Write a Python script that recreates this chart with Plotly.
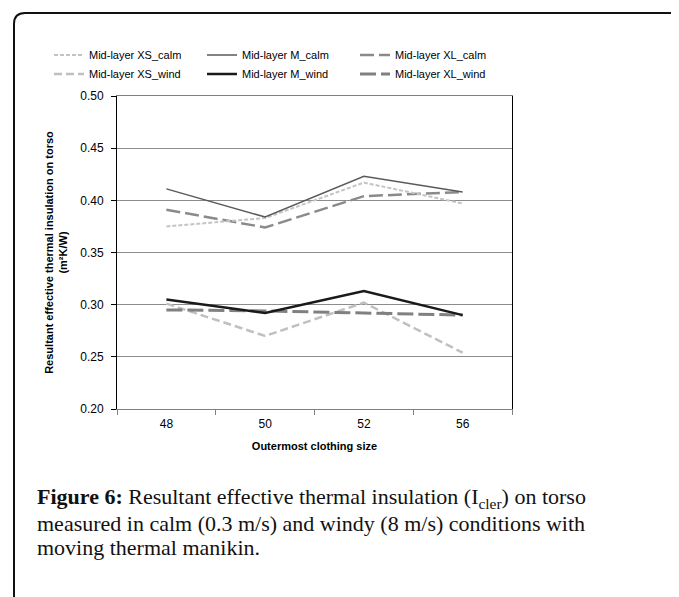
import plotly.graph_objects as go

sizes = ["48", "50", "52", "56"]
xs_calm = [0.375, 0.383, 0.417, 0.397]
m_calm = [0.411, 0.384, 0.423, 0.408]
xl_calm = [0.391, 0.374, 0.404, 0.408]
xs_wind = [0.301, 0.270, 0.302, 0.254]
m_wind = [0.305, 0.292, 0.313, 0.290]
xl_wind = [0.295, 0.294, 0.292, 0.290]

y_ticks = [0.20, 0.25, 0.30, 0.35, 0.40, 0.45, 0.50]

W, H = 679, 597
OFF = 8  # page body margin
L, R, T, B = 117, 512, 96, 409  # plot area in screen pixels


def px(xp):
    return (xp - L) / (R - L)


def py(yp):
    return (B - yp) / (B - T)


fig = go.Figure()

# (name, values, color, width, dash, legend rank)
series = [
    ("Mid-layer XS_wind", xs_wind, "#c0c0c0", 2.5, "8px,4px", 4),
    ("Mid-layer XL_wind", xl_wind, "#808080", 3, "16px,5px", 6),
    ("Mid-layer M_wind", m_wind, "#1a1a1a", 2.5, "solid", 5),
    ("Mid-layer XL_calm", xl_calm, "#8a8a8a", 2.5, "14px,5px", 3),
    ("Mid-layer XS_calm", xs_calm, "#c4c4c4", 2, "4px,2px", 1),
    ("Mid-layer M_calm", m_calm, "#5a5a5a", 1.5, "solid", 2),
]
for name, vals, color, width, dash, rank in series:
    fig.add_trace(go.Scatter(
        x=sizes, y=vals, name=name, mode="lines",
        line=dict(color=color, width=width, dash=dash),
        legendrank=rank,
    ))

ml = L - OFF
mt = T - OFF
fig.update_layout(
    width=W, height=H,
    margin=dict(l=ml, r=W - ml - (R - L), t=mt, b=H - mt - (B - T), autoexpand=False),
    paper_bgcolor="white", plot_bgcolor="white",
    font=dict(family="Liberation Sans, Arial", size=11, color="#000"),
    legend=dict(
        orientation="h", xref="paper", yref="paper",
        x=px(49), y=py(64.5), xanchor="left", yanchor="middle",
        font=dict(family="Liberation Sans, Arial", size=11, color="#000"),
        entrywidth=108, entrywidthmode="pixels",
        bgcolor="rgba(0,0,0,0)", traceorder="normal",
    ),
    xaxis=dict(
        type="category", tickson="boundaries", range=[-0.5, 3.5],
        ticks="outside", ticklen=5, tickcolor="#808080",
        showline=True, linecolor="#808080", linewidth=1, mirror=True,
        showgrid=False, automargin=False, ticklabelstandoff=4,
        tickfont=dict(size=12),
        title=dict(text="<b>Outermost clothing size</b>", font=dict(size=11), standoff=11),
    ),
    yaxis=dict(
        range=[0.2, 0.5], tickvals=y_ticks, tickformat=".2f",
        ticks="outside", ticklen=5, tickcolor="#000",
        showline=True, linecolor="#000", linewidth=1, mirror=True,
        showgrid=True, gridcolor="#8c8c8c", gridwidth=1,
        zeroline=False, automargin=False, ticklabelstandoff=5,
        tickfont=dict(size=12),
        title=dict(text="<b>Resultant effective thermal insulation on torso<br>(m²K/W)</b>",
                   font=dict(size=11), standoff=10),
    ),
)

# outer rounded frame (decorative)
path = (f"M {px(14)},{py(640)} L {px(14)},{py(24)} "
        f"Q {px(14)},{py(13)} {px(25)},{py(13)} L {px(720)},{py(13)}")
fig.add_shape(type="path", path=path, xref="paper", yref="paper",
              line=dict(color="#111", width=2))

caption_lines = [
    ("<b>Figure 6:</b> Resultant effective thermal insulation (I<sub>cler</sub>) on torso", 498),
    ("measured in calm (0.3 m/s) and windy (8 m/s) conditions with", 523),
    ("moving thermal manikin.", 547),
]
for text, yc in caption_lines:
    fig.add_annotation(
        xref="paper", yref="paper", x=px(35), y=py(yc),
        xanchor="left", yanchor="middle", align="left", showarrow=False,
        text=text,
        font=dict(family="Liberation Serif, Times New Roman, serif", size=22, color="#111"),
    )

fig.write_html("out.html")
